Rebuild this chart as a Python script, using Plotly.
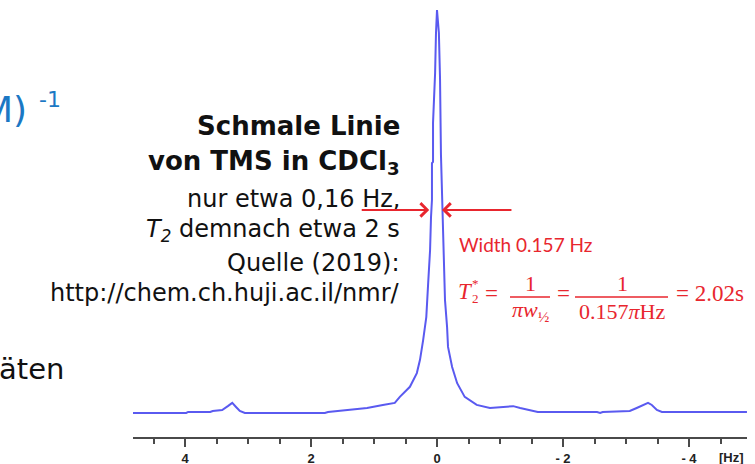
import plotly.graph_objects as go

# ---- data ----
freq_hz = [4.83, 3.98, 3.95, 3.60, 3.56, 3.41, 3.32, 3.25, 3.19, 3.13, 3.05,
           1.78, 1.73, 1.38, 1.11, 0.86, 0.67, 0.59, 0.43, 0.32, 0.27, 0.22,
           0.17, 0.14, 0.11, 0.095, 0.08, 0.08, 0.063, 0.063, 0.03, 0.016, 0.0,
           -0.03, -0.048, -0.063, -0.08, -0.095, -0.11, -0.127, -0.16, -0.175,
           -0.24, -0.32, -0.44, -0.63, -0.84, -1.11, -1.21, -1.32, -1.48, -1.60,
           -2.54, -2.59, -2.63, -3.06, -3.17, -3.27, -3.35, -3.41, -3.49, -3.57, -4.92]
intensity = [0.0, 0.0, 0.25, 0.25, 0.5, 0.75, 1.7, 2.5, 1.5, 0.5, 0.0,
             0.0, 0.25, 0.75, 1.25, 2.0, 2.5, 4.0, 6.5, 9.9, 13.2, 18.1,
             23.8, 32.3, 40.4, 48.6, 52.9, 62.0, 62.3, 72.0, 84.4, 94.3, 100.0,
             94.3, 83.1, 64.0, 52.9, 44.7, 36.2, 28.0, 21.3, 16.4,
             11.4, 7.4, 4.0, 2.0, 1.25, 1.5, 1.7, 1.25, 0.75, 0.25,
             0.25, 0.0, 0.25, 0.5, 1.25, 2.0, 2.5, 2.0, 0.75, 0.25, 0.25]

major_ticks = [4, 2, 0, -2, -4]
major_labels = ["4", "2", "0", "- 2", "- 4"]
minor_ticks = [4.5, 3.5, 3, 2.5, 1.5, 1, 0.5, -0.5, -1, -1.5, -2.5, -3, -3.5, -4.5]

W, H = 755, 464


def px(x):
    return x / W


def py(y):
    return 1 - y / H


BLUE_LINE = "#5a5af0"
RED = "#e8262e"
AXIS = "#4a4a4a"
SANS = "DejaVu Sans"
SERIF = "Liberation Serif"

fig = go.Figure()
fig.add_trace(go.Scatter(x=freq_hz, y=intensity, mode="lines",
                         line=dict(color=BLUE_LINE, width=2), hoverinfo="skip"))

fig.update_layout(
    width=W, height=H, margin=dict(l=0, r=0, t=0, b=0),
    paper_bgcolor="white", plot_bgcolor="white", showlegend=False,
    xaxis=dict(domain=[133 / W, 747 / W], range=[(437 - 133) / 63, (437 - 747) / 63],
               showline=True, linecolor=AXIS, linewidth=2,
               ticks="outside", ticklen=8, tickwidth=2, tickcolor=AXIS,
               tickmode="array", tickvals=major_ticks, ticktext=major_labels,
               ticklabelstandoff=0,
               tickfont=dict(family="Liberation Sans", size=13, color="#222", weight="bold"),
               showgrid=False, zeroline=False, fixedrange=True, automargin=False,
               minor=dict(tickmode="array", tickvals=minor_ticks, ticks="outside",
                          ticklen=5, tickwidth=2, tickcolor=AXIS, showgrid=False)),
    yaxis=dict(domain=[27 / H, 1], range=[-24 / 4.03, 413 / 4.03], visible=False,
               fixedrange=True),
)

ann = []


def text(s, x, y, size, color="#111", family=SANS, xanchor="center", yanchor="middle", weight="normal"):
    ann.append(dict(text=s, x=px(x), y=py(y), xref="paper", yref="paper", showarrow=False,
                    xanchor=xanchor, yanchor=yanchor,
                    font=dict(family=family, size=size, color=color, weight=weight)))


# slide texts
text("M)", 29, 110, 36, color="#1b78c4", xanchor="right")
text("-1", 37, 100, 22, color="#1b78c4", xanchor="left")
text("äten", 66, 369, 29, color="#111", xanchor="right")

text("Schmale Linie", 402, 126, 26, xanchor="right", weight="bold")
text("von TMS in CDCl<sub>3</sub>", 402, 163, 26, xanchor="right", weight="bold")
text("nur etwa 0,16 Hz,", 402, 199, 24, xanchor="right")
text("<i>T</i><sub><i>2</i></sub> demnach etwa 2 s", 402, 230, 24, xanchor="right")
text("Quelle (2019):", 402, 263, 24, xanchor="right")
text("http://chem.ch.huji.ac.il/nmr/", 402, 293, 24, xanchor="right")

# axis unit
text("[Hz]", 731, 457, 13, color="#222", family="Liberation Sans", weight="bold")

# red annotation texts
text("Width 0.157 Hz", 457, 244, 19, color=RED, family="Lato", xanchor="left")
text("<i>T</i>", 456, 291, 23, color=RED, family=SERIF, xanchor="left")
text("2", 470, 298, 13, color=RED, family=SERIF, xanchor="left")
text("*", 470, 283, 13, color=RED, family=SERIF, xanchor="left")
text("=", 491, 293, 23, color=RED, family=SERIF)
text("1", 530, 283, 22, color=RED, family=SERIF)
text("<i>πw</i><sub>½</sub>", 530, 311, 22, color=RED, family=SERIF)
text("=", 563, 293, 23, color=RED, family=SERIF)
text("1", 622, 283, 22, color=RED, family=SERIF)
text("0.157<i>π</i>Hz", 622, 311, 22, color=RED, family=SERIF)
text("= 2.02s", 674, 293, 23, color=RED, family=SERIF, xanchor="left")

# FWHM arrows (tips next to the half-height points of the peak)
half_width = 0.157 / 2
for tip_x, ax in [(half_width + 0.045, -69), (-half_width, 71)]:
    ann.append(dict(x=tip_x, y=50.4, xref="x", yref="y", ax=ax, ay=0,
                    axref="pixel", ayref="pixel", text="", showarrow=True,
                    arrowhead=4, arrowsize=1.3, arrowwidth=2, arrowcolor=RED))

fig.update_layout(annotations=ann)

shapes = []
for x0, x1 in [(510, 550), (575, 668)]:
    shapes.append(dict(type="line", xref="paper", yref="paper", x0=px(x0), x1=px(x1),
                       y0=py(297), y1=py(297), line=dict(color=RED, width=1.3)))
fig.update_layout(shapes=shapes)

fig.write_html("out.html", config={"displayModeBar": False},
               post_script="document.body.style.margin='0';document.body.style.overflow='hidden';")
